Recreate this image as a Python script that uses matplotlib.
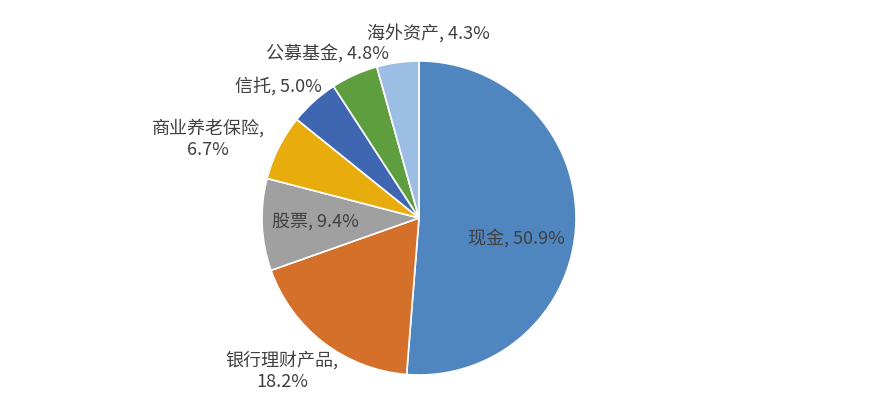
import matplotlib
matplotlib.use("Agg")
import matplotlib.pyplot as plt

categories = ["现金", "银行理财产品", "股票", "商业养老保险", "信托", "公募基金", "海外资产"]
values = [50.9, 18.2, 9.4, 6.7, 5.0, 4.8, 4.3]
label_texts = ["现金, 50.9%", "银行理财产品,\n18.2%", "股票, 9.4%", "商业养老保险,\n6.7%",
               "信托, 5.0%", "公募基金, 4.8%", "海外资产, 4.3%"]
colors = ["#4F86C0", "#D5702A", "#A0A0A0", "#E8AD0C", "#3F66B1", "#5F9E3F", "#9DBEE4"]

plt.rcParams['font.family'] = ['Noto Sans CJK SC', 'DejaVu Sans']

W, H = 871, 401
fig = plt.figure(figsize=(W / 100, H / 100), dpi=100)
cx, cy, r = 419, 218, 157
ax = fig.add_axes([(cx - r) / W, (H - cy - r) / H, 2 * r / W, 2 * r / H])
ax.pie(values, colors=colors, startangle=90, counterclock=False, radius=1,
       wedgeprops=dict(edgecolor="white", linewidth=1.2))
ax.set_xlim(-1, 1)
ax.set_ylim(-1, 1)
ax.set_aspect("equal")
ax.axis("off")

# label centres in pixel coordinates of the figure
label_px = [(516, 238), (282, 371), (315, 222), (208, 139), (278, 86), (327, 53), (428, 33)]
for txt, (px, py) in zip(label_texts, label_px):
    fig.text(px / W, 1 - py / H, txt, ha="center", va="center", fontsize=13,
             color="#404040", linespacing=1.3)

fig.savefig("out.png", dpi=100)
